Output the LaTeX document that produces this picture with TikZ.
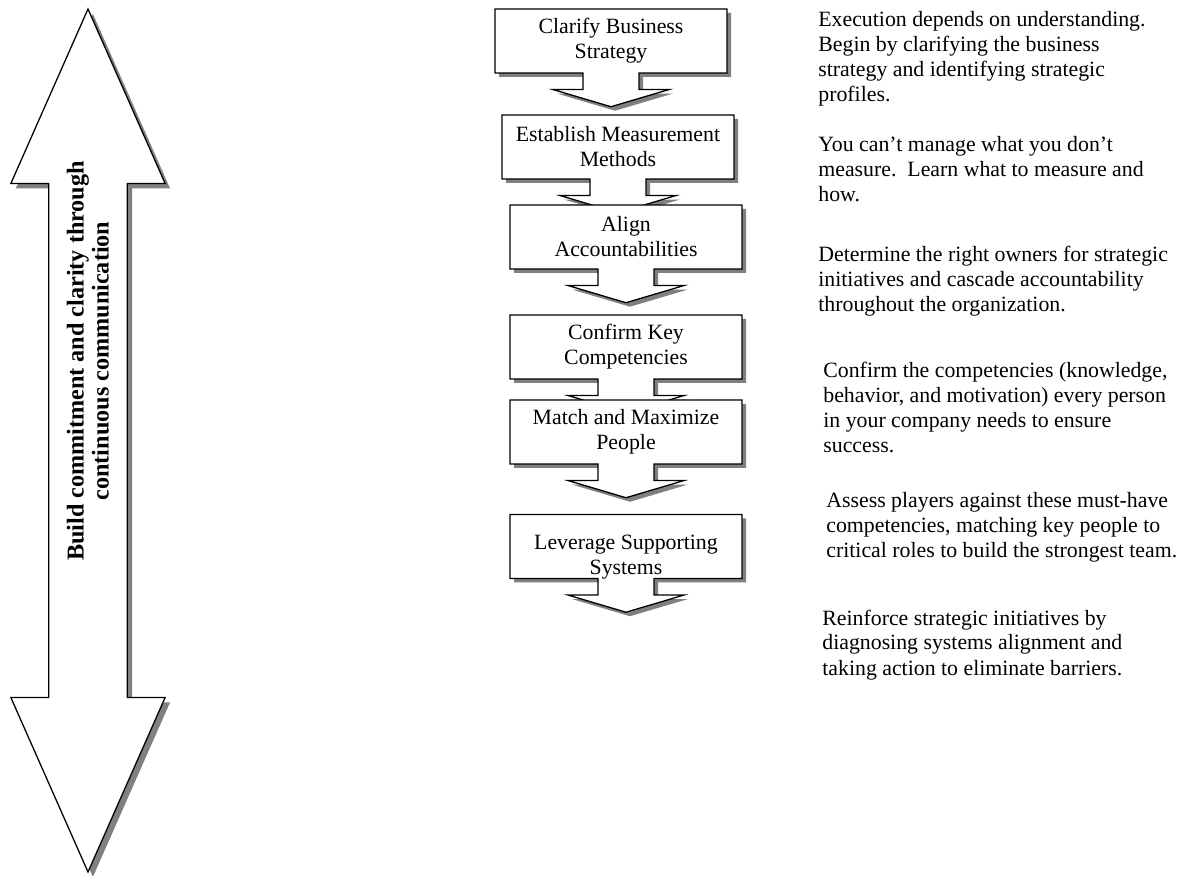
\documentclass[tikz,border=0pt]{standalone}
\usepackage{fontspec}
\setmainfont{Liberation Serif}
\usetikzlibrary{
    shapes.arrows,
    shadows
}

\begin{document}
\begin{tikzpicture}[
        x=0.55pt, y=-0.55pt,
        stepbox/.style={arrow box, draw, fill=white, line width=0.7pt,
            minimum width=127.6pt, minimum height=35.2pt, inner sep=2pt, align=center,
            font=\fontsize{12}{13.75}\selectfont,
            arrow box north arrow=-1cm, arrow box east arrow=-1cm, arrow box west arrow=-1cm,
            arrow box south arrow=18.2pt,
            arrow box shaft width=30.8pt, arrow box head extend=16.5pt, arrow box tip angle=147,
            drop shadow={shadow xshift=2.2pt, shadow yshift=-2.2pt, fill=black!50, opacity=1}},
        note/.style={anchor=base west, align=left, inner sep=0pt, font=\fontsize{12}{13.75}\selectfont}
    ]
        \useasboundingbox (0,0) rectangle (1181,876);

        % Communication arrow
        \node[double arrow, draw, fill=white, line width=0.7pt, shape border rotate=90,
            minimum height=474.65pt, minimum width=84.15pt, inner sep=21.2pt,
            double arrow head extend=20.9pt, double arrow tip angle=47.7,
            drop shadow={shadow xshift=2.7pt, shadow yshift=-2.7pt, fill=black!50, opacity=1}]
            (commit) at (88, 440.5) {};
        \node[rotate=90, align=center, font=\bfseries\fontsize{13.3}{13.75}\selectfont]
            (committext) at (88, 361) {Build commitment and clarity through\\continuous communication};

        % Steps
        \node[stepbox] (clarify) at (611, 41) {Clarify Business\\Strategy};
        \node[stepbox] (measure) at (618, 147) {Establish Measurement\\Methods};
        \node[stepbox] (align) at (626, 237) {Align\\Accountabilities};
        \node[stepbox] (confirm) at (626, 347) {Confirm Key\\Competencies};
        \node[stepbox] (match) at (626, 432) {Match and Maximize\\People};
        \node[stepbox] (leverage) at (626, 546.5) {};
        \node[align=center, font=\fontsize{12}{13.75}\selectfont] (levtext) at (626, 557) {Leverage Supporting\\Systems};

        % Descriptions (anchored on the last line)
        \node[note] (clarifynote) at (818, 102) {Execution depends on understanding.\\Begin by clarifying the business\\strategy and identifying strategic\\profiles.};
        \node[note] (measurenote) at (818, 202) {You can't manage what you don't\\measure.\ \ Learn what to measure and\\how.};
        \node[note] (alignnote) at (818, 312) {Determine the right owners for strategic\\initiatives and cascade accountability\\throughout the organization.};
        \node[note] (confirmnote) at (823, 453) {Confirm the competencies (knowledge,\\behavior, and motivation) every person\\in your company needs to ensure\\success.};
        \node[note] (matchnote) at (826, 558) {Assess players against these must-have\\competencies, matching key people to\\critical roles to build the strongest team.};
        \node[note] (leveragenote) at (822, 675) {Reinforce strategic initiatives by\\diagnosing systems alignment and\\taking action to eliminate barriers.};
    \end{tikzpicture}
\end{document}
